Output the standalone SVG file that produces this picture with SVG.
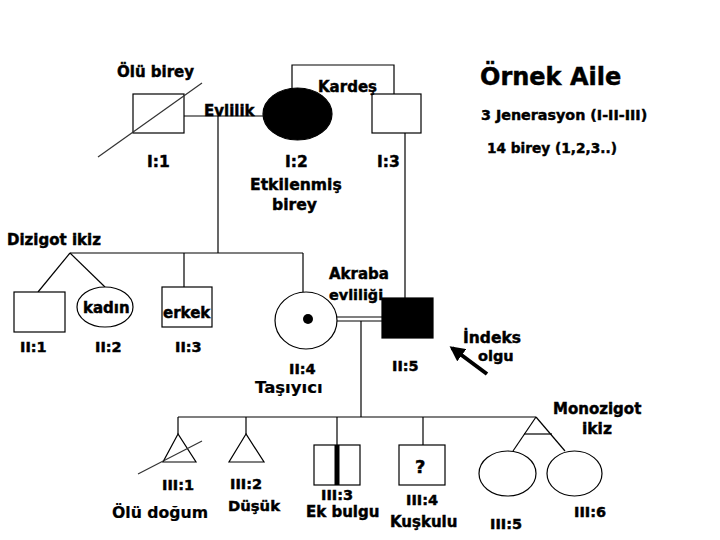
<svg xmlns="http://www.w3.org/2000/svg" width="720" height="540" viewBox="0 0 720 540">
<style>
  .ln{stroke:#000;stroke-width:1.2;fill:none}
  .sh{stroke:#000;stroke-width:1.2;fill:#fff}
  .fill{fill:#000;stroke:#000;stroke-width:1.2}
  .diag{stroke:#333;stroke-width:1.2;fill:none}
  text{font-family:"DejaVu Sans","Liberation Sans",sans-serif;font-weight:bold;fill:#000;stroke:#000;stroke-width:0.45}
  .lab{font-size:15.5px}
  .lab2{font-size:14.5px}
  .t{font-size:15px}
</style>
<defs>
  <marker id="ah" viewBox="0 0 10 10" refX="8" refY="5" markerWidth="3.8" markerHeight="3.8" orient="auto" markerUnits="strokeWidth">
    <path d="M0,0 L10,5 L0,10 z" fill="#000"/>
  </marker>
</defs>
<rect width="720" height="540" fill="#fff"/>

<g id="connectors">
  <line class="ln" x1="184" y1="116" x2="263" y2="116"/>
  <line class="ln" x1="218" y1="116" x2="218" y2="253"/>
  <polyline class="ln" points="292,89 292,65 394,65 394,94"/>
  <line class="ln" x1="70" y1="253" x2="303" y2="253"/>
  <line class="ln" x1="70" y1="253" x2="38" y2="292"/>
  <line class="ln" x1="70" y1="253" x2="105" y2="287"/>
  <line class="ln" x1="184" y1="253" x2="184" y2="287"/>
  <line class="ln" x1="303" y1="253" x2="303" y2="292"/>
  <line class="ln" x1="405" y1="133" x2="405" y2="298"/>
  <line class="ln" x1="337" y1="317" x2="382" y2="317"/>
  <line class="ln" x1="337" y1="321" x2="382" y2="321"/>
  <line class="ln" x1="361" y1="321" x2="361" y2="417"/>
  <line class="ln" x1="178" y1="417" x2="536" y2="417"/>
  <line class="ln" x1="178" y1="417" x2="178" y2="434"/>
  <line class="ln" x1="246" y1="417" x2="246" y2="434"/>
  <line class="ln" x1="337" y1="417" x2="337" y2="445"/>
  <line class="ln" x1="423" y1="417" x2="423" y2="445"/>
  <line class="ln" x1="536" y1="417" x2="513" y2="451"/>
  <line class="ln" x1="536" y1="417" x2="565" y2="451"/>
  <line class="ln" x1="524" y1="434" x2="552" y2="434"/>
  <line x1="487" y1="374" x2="452" y2="348" stroke="#000" stroke-width="4" marker-end="url(#ah)"/>
</g>

<g id="I1">
  <rect class="sh" x="133" y="94" width="51" height="39"/>
  <line class="diag" x1="98" y1="157" x2="202" y2="83"/>
  <text class="lab" x="147" y="167">I:1</text>
</g>
<g id="I2">
  <ellipse class="fill" cx="297.5" cy="114" rx="34.5" ry="26"/>
  <text class="lab" x="285" y="167">I:2</text>
</g>
<g id="I3">
  <rect class="sh" x="372" y="94" width="49" height="39"/>
  <text class="lab" x="377" y="167">I:3</text>
</g>

<g id="II1">
  <rect class="sh" x="14" y="292" width="51" height="40"/>
  <text class="lab2" x="20" y="352">II:1</text>
</g>
<g id="II2">
  <ellipse class="sh" cx="105" cy="307" rx="28" ry="20"/>
  <text class="t" x="83" y="313">kadın</text>
  <text class="lab2" x="95" y="352">II:2</text>
</g>
<g id="II3">
  <rect class="sh" x="162" y="287" width="50" height="40"/>
  <text class="t" x="163" y="318">erkek</text>
  <text class="lab2" x="175" y="352">II:3</text>
</g>
<g id="II4">
  <ellipse class="sh" cx="306" cy="320.5" rx="31" ry="28.5"/>
  <circle cx="308" cy="319" r="5" fill="#000"/>
  <text class="lab2" x="289" y="374">II:4</text>
</g>
<g id="II5">
  <rect class="fill" x="382" y="298" width="51" height="40"/>
  <text class="lab2" x="392" y="371">II:5</text>
</g>

<g id="III1">
  <polygon class="sh" points="178,434 163,462 196,462"/>
  <line class="diag" x1="138" y1="474" x2="202" y2="441"/>
  <text class="lab2" x="162" y="490">III:1</text>
</g>
<g id="III2">
  <polygon class="sh" points="246,434 229,462 264,462"/>
  <text class="lab2" x="230" y="489">III:2</text>
</g>
<g id="III3">
  <rect class="sh" x="314" y="445" width="46" height="40"/>
  <rect x="334.5" y="445" width="5" height="40" fill="#000"/>
  <text class="lab2" x="321" y="500">III:3</text>
</g>
<g id="III4">
  <rect class="sh" x="399" y="445" width="46" height="40"/>
  <text x="415" y="473" style="font-size:18px">?</text>
  <text class="lab2" x="406" y="505">III:4</text>
</g>
<g id="III5">
  <ellipse class="sh" cx="507.5" cy="473.5" rx="28.5" ry="22.5"/>
  <text class="lab2" x="490" y="529">III:5</text>
</g>
<g id="III6">
  <ellipse class="sh" cx="574.5" cy="473.5" rx="27.5" ry="22.5"/>
  <text class="lab2" x="574" y="517">III:6</text>
</g>

<g id="labels">
  <text x="480" y="85" style="font-size:24px">Örnek Aile</text>
  <text x="481" y="120" style="font-size:14.3px">3 Jenerasyon (I-II-III)</text>
  <text x="487" y="153" style="font-size:13.7px">14 birey (1,2,3..)</text>
  <text class="t" x="117" y="77">Ölü birey</text>
  <text class="t" x="204" y="116">Evlilik</text>
  <text class="t" x="318" y="92">Kardeş</text>
  <text x="250" y="190" style="font-size:15.6px">Etkilenmiş</text>
  <text x="272" y="210" style="font-size:15.6px">birey</text>
  <text class="t" x="7" y="245">Dizigot ikiz</text>
  <text class="t" x="329" y="279">Akraba</text>
  <text x="329" y="300" style="font-size:14.4px">evliliği</text>
  <text x="463" y="343" style="font-size:15.5px">İndeks</text>
  <text x="478" y="361" style="font-size:14.5px">olgu</text>
  <text x="255" y="393" style="font-size:16.5px;stroke-width:0.2">Taşıyıcı</text>
  <text x="553" y="414" style="font-size:15px">Monozigot</text>
  <text x="582" y="434" style="font-size:15.5px">ikiz</text>
  <text x="112" y="518" style="font-size:15.7px;stroke-width:0.2">Ölü doğum</text>
  <text x="228" y="511" style="font-size:14.8px">Düşük</text>
  <text x="306" y="517" style="font-size:15px">Ek bulgu</text>
  <text x="390" y="527" style="font-size:15px">Kuşkulu</text>
</g>
</svg>
